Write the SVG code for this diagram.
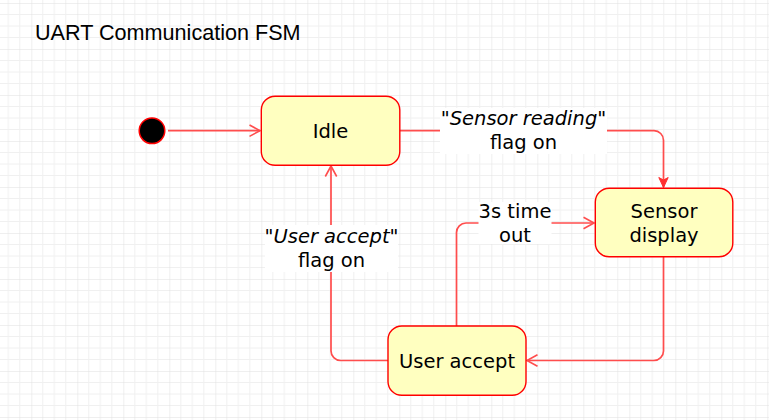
<svg xmlns="http://www.w3.org/2000/svg" width="769" height="420" viewBox="0 0 769 420">
<defs>
<pattern id="grid" patternUnits="userSpaceOnUse" x="31.3" y="3" width="46" height="46">
<path d="M11.5 0V46M23 0V46M34.5 0V46M0 11.5H46M0 23H46M0 34.5H46" fill="none" stroke="#f0f0f0" stroke-width="1"/>
<path d="M0 0V46M0 0H46" fill="none" stroke="#e0e0e0" stroke-width="1"/>
</pattern>
<marker id="open" markerUnits="userSpaceOnUse" viewBox="0 0 14 14" refX="12" refY="7" markerWidth="14" markerHeight="14" orient="auto">
<path d="M1.5 1.3L12 7L1.5 12.7" fill="none" stroke="#ff4d4d" stroke-width="1.6"/>
</marker>
<marker id="block" markerUnits="userSpaceOnUse" viewBox="0 0 14 14" refX="12" refY="7" markerWidth="14" markerHeight="14" orient="auto">
<path d="M2 2.3L12 7L2 11.7L4.5 7Z" fill="#ff3030" stroke="#ff3030" stroke-width="1"/>
</marker>
</defs>
<style>
.state rect{fill:#ffffc0;stroke:#ff0000;stroke-width:1.4}
.t{font-family:"DejaVu Sans","Verdana",sans-serif;font-size:19.5px;fill:#000;text-anchor:middle}
.i{font-style:italic}
.edge{fill:none;stroke:#ff4d4d;stroke-width:1.7}
.lbl{fill:#fff}
</style>
<rect width="769" height="420" fill="#fff"/>
<rect width="769" height="420" fill="url(#grid)"/>
<text x="35" y="40" font-family="'Liberation Sans',Arial,sans-serif" font-size="21.6" fill="#000">UART Communication FSM</text>
<g id="connectors">
<path class="edge" d="M168 130.7H260" marker-end="url(#open)"/>
<path class="edge" d="M400 130.7H654a9.5 9.5 0 0 1 9.5 9.5V187.5" marker-end="url(#block)"/>
<path class="edge" d="M663.5 257V351a9.5 9.5 0 0 1 -9.5 9.5H527" marker-end="url(#open)"/>
<path class="edge" d="M388 360.5H340.5a9.5 9.5 0 0 1 -9.5 -9.5V166" marker-end="url(#open)"/>
<path class="edge" d="M456.5 326V232.5a9.5 9.5 0 0 1 9.5 -9.5H594" marker-end="url(#open)"/>
<rect class="lbl" x="440" y="108" width="167" height="46"/>
<text class="t" x="523.5" y="125.3"><tspan class="i">"Sensor reading"</tspan></text>
<text class="t" x="523.5" y="149.3">flag on</text>
<rect class="lbl" x="265" y="225" width="133" height="47"/>
<text class="t" x="331.5" y="243.3"><tspan class="i">"User accept"</tspan></text>
<text class="t" x="331.5" y="267.3">flag on</text>
<rect class="lbl" x="478.5" y="202" width="73" height="42"/>
<text class="t" x="515" y="218">3s time</text>
<text class="t" x="515" y="241.7">out</text>
</g>
<g id="initial">
<circle cx="152" cy="130.8" r="12.8" fill="#000" stroke="#ff0000" stroke-width="1.5"/>
</g>
<g id="idle" class="state">
<rect x="261.3" y="96.3" width="138.5" height="69" rx="13.8"/>
<text class="t" x="330.5" y="137.6">Idle</text>
</g>
<g id="sensor-display" class="state">
<rect x="595.3" y="188.3" width="137.5" height="68.5" rx="13.8"/>
<text class="t" x="664" y="217.5">Sensor</text>
<text class="t" x="664" y="241.5">display</text>
</g>
<g id="user-accept" class="state">
<rect x="388" y="326" width="138" height="69.3" rx="13.8"/>
<text class="t" x="457" y="367.5">User accept</text>
</g>
</svg>
